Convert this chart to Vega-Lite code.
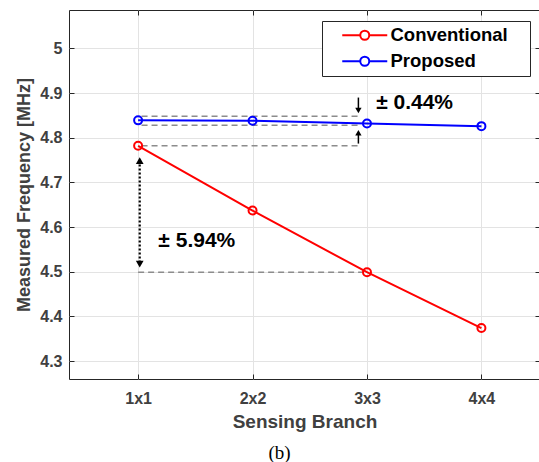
{
  "$schema": "https://vega.github.io/schema/vega-lite/v6.json",
  "width": 471,
  "height": 369,
  "autosize": "none",
  "padding": {"left": 69, "top": 10, "right": 0, "bottom": 83},
  "background": "white",
  "title": {"text": "(b)", "orient": "bottom", "font": "Liberation Serif", "fontSize": 19, "fontWeight": "normal", "color": "black", "offset": 13, "dx": -25},
  "config": {
    "view": {"stroke": "#262626", "strokeWidth": 1},
    "font": "Liberation Sans",
    "axis": {
      "domain": false,
      "tickColor": "#262626",
      "tickSize": -5,
      "gridColor": "#e3e3e3",
      "gridWidth": 1,
      "labelFont": "Liberation Sans",
      "labelFontWeight": "bold",
      "labelColor": "#404040",
      "labelFontSize": 16,
      "titleFont": "Liberation Sans",
      "titleFontWeight": "bold",
      "titleColor": "#404040",
      "titleFontSize": 18
    }
  },
  "datasets": {
    "series": [
      {"branch": 1, "series": "Conventional", "freq": 4.782},
      {"branch": 2, "series": "Conventional", "freq": 4.637},
      {"branch": 3, "series": "Conventional", "freq": 4.499},
      {"branch": 4, "series": "Conventional", "freq": 4.374},
      {"branch": 1, "series": "Proposed", "freq": 4.839},
      {"branch": 2, "series": "Proposed", "freq": 4.838},
      {"branch": 3, "series": "Proposed", "freq": 4.832},
      {"branch": 4, "series": "Proposed", "freq": 4.826}
    ],
    "guides": [
      {"x": 1.03, "x2": 2.94, "y": 4.848},
      {"x": 1.03, "x2": 2.94, "y": 4.828},
      {"x": 1.03, "x2": 2.94, "y": 4.782},
      {"x": 1.0, "x2": 2.97, "y": 4.499}
    ],
    "shafts": [
      {"x": 2.925, "y": 4.890, "y2": 4.861},
      {"x": 2.925, "y": 4.787, "y2": 4.811}
    ],
    "heads": [
      {"x": 2.925, "y": 4.861, "dir": "down"},
      {"x": 2.925, "y": 4.811, "dir": "up"}
    ],
    "dotted": [
      {"x": 1.014, "y": 4.749, "y2": 4.517}
    ],
    "dottedHeads": [
      {"x": 1.014, "y": 4.749, "dir": "up"},
      {"x": 1.014, "y": 4.517, "dir": "down"}
    ],
    "labels": [
      {"x": 3.08, "y": 4.878, "label": "± 0.44%"},
      {"x": 1.177, "y": 4.568, "label": "± 5.94%"}
    ]
  },
  "layer": [
    {
      "data": {"name": "guides"},
      "mark": {"type": "rule", "color": "#8c8c8c", "strokeWidth": 1.5, "strokeDash": [6, 4]},
      "encoding": {
        "x": {"field": "x", "type": "quantitative", "scale": {"domain": [0.396, 4.512], "nice": false, "zero": false},
              "axis": {"orient": "top", "values": [1, 2, 3, 4], "labels": false, "title": null, "grid": false}},
        "x2": {"field": "x2"},
        "y": {"field": "y", "type": "quantitative", "scale": {"domain": [4.26, 5.086], "nice": false, "zero": false},
              "axis": {"orient": "right", "values": [4.3, 4.4, 4.5, 4.6, 4.7, 4.8, 4.9, 5.0], "labels": false, "title": null, "grid": false}}
      }
    },
    {
      "data": {"name": "series"},
      "mark": {"type": "line", "strokeWidth": 2, "point": {"filled": false, "size": 64, "strokeWidth": 2}},
      "encoding": {
        "x": {"field": "branch", "type": "quantitative",
              "axis": {"orient": "bottom", "values": [1, 2, 3, 4], "grid": true, "title": "Sensing Branch", "titleFontSize": 19, "titlePadding": 6, "labelExpr": "datum.value + 'x' + datum.value", "labelPadding": 16}},
        "y": {"field": "freq", "type": "quantitative",
              "axis": {"orient": "left", "values": [4.3, 4.4, 4.5, 4.6, 4.7, 4.8, 4.9, 5.0], "grid": true, "title": "Measured Frequency [MHz]", "format": ".1~f", "labelPadding": 12, "titlePadding": 6}},
        "color": {"field": "series", "type": "nominal",
                  "scale": {"domain": ["Conventional", "Proposed"], "range": ["#ff0000", "#0000ff"]},
                  "legend": {"orient": "none", "legendX": 253, "legendY": 11, "padding": 5,
                             "title": "\u2800", "titleOrient": "right", "titleFontSize": 10, "titlePadding": 10, "titleColor": "white",
                             "strokeColor": "#262626", "fillColor": "white",
                             "symbolType": "M-5,0H-1M1,0H5M-1,0A1,1 0 1,1 1,0A1,1 0 1,1 -1,0",
                             "symbolSize": 81, "symbolStrokeWidth": 2, "symbolFillColor": "transparent",
                             "symbolOffset": 28.5, "labelOffset": 16.5, "rowPadding": 7,
                             "labelFont": "Liberation Sans", "labelFontSize": 18.5, "labelFontWeight": "bold", "labelColor": "black"}}
      }
    },
    {
      "data": {"name": "shafts"},
      "mark": {"type": "rule", "color": "black", "strokeWidth": 1.5},
      "encoding": {
        "x": {"field": "x", "type": "quantitative", "axis": null},
        "y": {"field": "y", "type": "quantitative", "axis": null},
        "y2": {"field": "y2"}
      }
    },
    {
      "data": {"name": "heads"},
      "mark": {"type": "point", "filled": true, "color": "black", "size": 40, "opacity": 1},
      "encoding": {
        "x": {"field": "x", "type": "quantitative", "axis": null},
        "y": {"field": "y", "type": "quantitative", "axis": null},
        "shape": {"field": "dir", "type": "nominal", "scale": {"domain": ["down", "up"], "range": ["triangle-down", "triangle-up"]}, "legend": null}
      }
    },
    {
      "data": {"name": "dotted"},
      "mark": {"type": "rule", "color": "black", "strokeWidth": 2.2, "strokeDash": [2, 2]},
      "encoding": {
        "x": {"field": "x", "type": "quantitative", "axis": null},
        "y": {"field": "y", "type": "quantitative", "axis": null},
        "y2": {"field": "y2"}
      }
    },
    {
      "data": {"name": "dottedHeads"},
      "mark": {"type": "point", "filled": true, "color": "black", "size": 60, "opacity": 1},
      "encoding": {
        "x": {"field": "x", "type": "quantitative", "axis": null},
        "y": {"field": "y", "type": "quantitative", "axis": null},
        "shape": {"field": "dir", "type": "nominal", "scale": {"domain": ["down", "up"], "range": ["triangle-down", "triangle-up"]}, "legend": null}
      }
    },
    {
      "data": {"name": "labels"},
      "mark": {"type": "text", "align": "left", "baseline": "middle", "fontSize": 21, "fontWeight": "bold", "font": "Liberation Sans", "color": "black"},
      "encoding": {
        "x": {"field": "x", "type": "quantitative", "axis": null},
        "y": {"field": "y", "type": "quantitative", "axis": null},
        "text": {"field": "label"}
      }
    }
  ],
  "resolve": {"axis": {"x": "independent", "y": "independent"}}
}
